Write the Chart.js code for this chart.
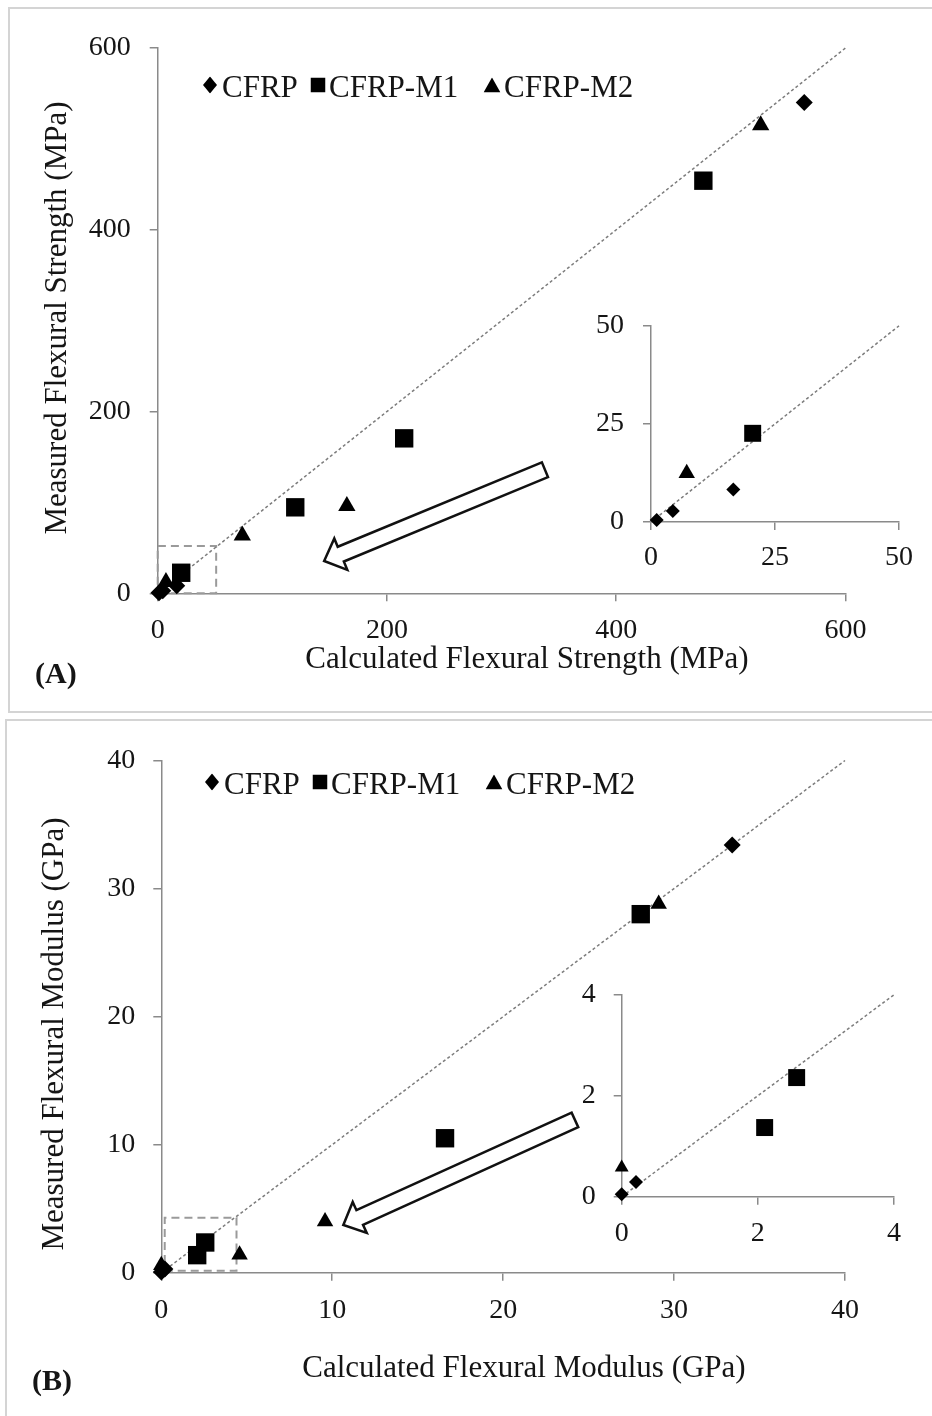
<!DOCTYPE html>
<html>
<head>
<meta charset="utf-8">
<script src="https://cdn.jsdelivr.net/npm/chart.js@4.4.1/dist/chart.umd.min.js"></script>
<style>
  body { margin: 0; background: #fff; }
  #page { position: relative; width: 932px; height: 1416px; overflow: hidden; font-family: "Liberation Serif", serif; color: #151515; }
  .panel { position: absolute; border: 2px solid #d4d4d4; box-sizing: border-box; }
  .cv { position: absolute; }
  .txt { position: absolute; white-space: nowrap; line-height: 1; }
  .title { font-size: 31px; transform: translate(-50%, -50%); }
  .ytitle { font-size: 31px; transform: translate(-50%, -50%) rotate(-90deg); }
  .tag { font-size: 30px; font-weight: bold; transform: translateY(-50%); }
  .leg { position: absolute; font-size: 31px; line-height: 1; white-space: nowrap; transform: translateY(-50%); }
  .sym { position: absolute; transform: translate(-50%, -50%); }
</style>
</head>
<body>
<div id="page">
  <div class="panel" style="left:8px;top:7px;width:940px;height:706px"></div>
  <div class="panel" style="left:5px;top:719px;width:940px;height:720px"></div>

  <canvas id="mainA" class="cv" style="left:0;top:0" width="932" height="712"></canvas>
  <canvas id="insetA" class="cv" style="left:560px;top:290px" width="372" height="300"></canvas>
  <canvas id="mainB" class="cv" style="left:0;top:715px" width="932" height="701"></canvas>
  <canvas id="insetB" class="cv" style="left:530px;top:960px" width="402" height="300"></canvas>

  <div class="txt ytitle" style="left:55px;top:318px">Measured Flexural Strength (MPa)</div>
  <div class="txt title" style="left:527px;top:657px">Calculated Flexural Strength (MPa)</div>
  <div class="txt tag" style="left:35px;top:673px">(A)</div>

  <div class="txt ytitle" style="left:52px;top:1034px">Measured Flexural Modulus (GPa)</div>
  <div class="txt title" style="left:524px;top:1366px">Calculated Flexural Modulus (GPa)</div>
  <div class="txt tag" style="left:32px;top:1380px">(B)</div>

  <div id="legA"></div>
  <div id="legB"></div>
</div>

<script>
// (A) flexural strength, MPa: [calculated, measured]
const strengthCFRP = [[1.15, 0.5], [4.4, 2.8], [16.6, 8.3], [564, 540]];
const strengthM1 = [[20.5, 22.6], [120, 94.6], [215, 170.5], [476, 454]];
const strengthM2 = [[7.2, 12.4], [73.8, 63.6], [165, 96], [526, 515]];
const strengthTicks = [0, 200, 400, 600];
const strengthInsetTicks = [0, 25, 50];
const strengthBox = [[0, 0], [51, 0], [51, 52], [0, 52], [0, 0]];
const strengthArrow = [[337.8, 136], [145.2, 35.5]];

// (B) flexural modulus, GPa: [calculated, measured]
const modulusCFRP = [[0, 0.05], [0.21, 0.29], [33.4, 33.4]];
const modulusM1 = [[2.1, 1.37], [2.57, 2.36], [16.6, 10.5], [28.05, 28.0]];
const modulusM2 = [[0, 0.58], [4.58, 1.4], [9.58, 4.0], [29.1, 28.8]];
const modulusTicks = [0, 10, 20, 30, 40];
const modulusInsetTicks = [0, 2, 4];
const modulusBox = [[0.2, 0.15], [4.4, 0.15], [4.4, 4.3], [0.2, 4.3], [0.2, 0.15]];
const modulusArrow = [[24.2, 11.93], [10.65, 3.73]];

const seriesNames = ['CFRP', 'CFRP-M1', 'CFRP-M2'];

const AXIS = '#8a8a8a';
const INK = '#151515';

// hollow block arrow pointing from the inset to the zoom box
const blockArrow = {
  id: 'blockArrow',
  afterDatasetsDraw(chart, args, o) {
    if (!o || !o.from) return;
    const xs = chart.scales.x, ys = chart.scales.y;
    const tx = xs.getPixelForValue(o.from[0]), ty = ys.getPixelForValue(o.from[1]);
    const px = xs.getPixelForValue(o.to[0]), py = ys.getPixelForValue(o.to[1]);
    const len = Math.hypot(px - tx, py - ty);
    const dx = (px - tx) / len, dy = (py - ty) / len;
    const nx = -dy, ny = dx;
    const w = 8, h = 17, L = 18;
    const bx = px - dx * L, by = py - dy * L;
    const ctx = chart.ctx;
    ctx.save();
    ctx.beginPath();
    ctx.moveTo(tx + nx * w, ty + ny * w);
    ctx.lineTo(bx + nx * w, by + ny * w);
    ctx.lineTo(bx + nx * h, by + ny * h);
    ctx.lineTo(px, py);
    ctx.lineTo(bx - nx * h, by - ny * h);
    ctx.lineTo(bx - nx * w, by - ny * w);
    ctx.lineTo(tx - nx * w, ty - ny * w);
    ctx.closePath();
    ctx.fillStyle = '#fff';
    ctx.fill();
    ctx.lineWidth = 2.5;
    ctx.lineJoin = 'miter';
    ctx.strokeStyle = '#111';
    ctx.stroke();
    ctx.restore();
  }
};

const toPts = arr => arr.map(p => ({ x: p[0], y: p[1] }));

function axis(ticks, fitSize, pad, isX) {
  return {
    type: 'linear',
    min: ticks[0],
    max: ticks[ticks.length - 1],
    afterBuildTicks: s => { s.ticks = ticks.map(v => ({ value: v })); },
    afterFit: s => { if (isX) s.height = fitSize; else s.width = fitSize; },
    grid: { display: true, drawOnChartArea: false, drawTicks: true, tickLength: 8, color: AXIS, lineWidth: 1.5 },
    border: { display: true, color: AXIS, width: 1.5 },
    ticks: {
      color: INK, padding: pad, autoSkip: false, maxRotation: 0,
      font: { family: 'Liberation Serif', size: 28 }
    }
  };
}

function drawPanel(id, cfg) {
  const top = cfg.ticks[cfg.ticks.length - 1];
  const datasets = [
    { label: seriesNames[0], data: toPts(cfg.cfrp), pointStyle: 'rectRot', pointRadius: cfg.r[0] },
    { label: seriesNames[1], data: toPts(cfg.m1), pointStyle: 'rect', pointRadius: cfg.r[1] },
    { label: seriesNames[2], data: toPts(cfg.m2), pointStyle: 'triangle', pointRadius: cfg.r[2] }
  ].map(d => Object.assign(d, { backgroundColor: '#000', borderColor: '#000', borderWidth: 0, showLine: false, clip: false, order: 0 }));

  // 1:1 line
  datasets.push({
    label: 'parity', data: [{ x: cfg.ticks[0], y: cfg.ticks[0] }, { x: top, y: top }],
    showLine: true, borderColor: '#7c7c7c', borderWidth: 1.5, borderDash: [3, 2.5],
    pointRadius: 0, clip: false, order: 5
  });
  if (cfg.box) {
    datasets.push({
      label: 'zoom', data: toPts(cfg.box), showLine: true, borderColor: '#9a9a9a',
      borderWidth: 2, borderDash: [8, 5], pointRadius: 0, clip: false, order: 6
    });
  }

  new Chart(document.getElementById(id), {
    type: 'scatter',
    data: { datasets },
    plugins: [blockArrow],
    options: {
      responsive: false,
      animation: false,
      events: [],
      layout: { padding: { left: 0, top: cfg.padTop, right: cfg.padRight, bottom: 0 } },
      plugins: {
        legend: { display: false },
        tooltip: { enabled: false },
        blockArrow: cfg.arrow ? { from: cfg.arrow[0], to: cfg.arrow[1] } : false
      },
      scales: {
        x: axis(cfg.ticks, cfg.xH, cfg.xPad, true),
        y: axis(cfg.ticks, cfg.yW, cfg.yPad, false)
      }
    }
  });
}

drawPanel('mainA', {
  cfrp: strengthCFRP, m1: strengthM1, m2: strengthM2, ticks: strengthTicks,
  box: strengthBox, arrow: strengthArrow, r: [8.5, 13, 10],
  yW: 157.7, xH: 118.7, padTop: 48, padRight: 86.5, xPad: 13, yPad: 19
});
drawPanel('insetA', {
  cfrp: strengthCFRP, m1: strengthM1, m2: strengthM2, ticks: strengthInsetTicks,
  r: [7, 12, 9.5],
  yW: 91, xH: 68, padTop: 34, padRight: 33, xPad: 11, yPad: 19
});
drawPanel('mainB', {
  cfrp: modulusCFRP, m1: modulusM1, m2: modulusM2, ticks: modulusTicks,
  box: modulusBox, arrow: modulusArrow, r: [8.5, 13, 9.5],
  yW: 161.3, xH: 143.3, padTop: 45.5, padRight: 87, xPad: 13, yPad: 18
});
drawPanel('insetB', {
  cfrp: modulusCFRP, m1: modulusM1, m2: modulusM2, ticks: modulusInsetTicks,
  r: [7, 12, 8],
  yW: 91.7, xH: 63.3, padTop: 31.7, padRight: 38, xPad: 12, yPad: 18
});

// legends, html text with small svg markers
const legendShapes = [
  '<svg width="14" height="17"><polygon points="7,0 14,8.5 7,17 0,8.5" fill="#000"/></svg>',
  '<svg width="15" height="15"><rect width="15" height="15" fill="#000"/></svg>',
  '<svg width="17" height="15"><polygon points="8.5,0 17,15 0,15" fill="#000"/></svg>'
];
function drawLegend(elId, y, symX, textX) {
  const el = document.getElementById(elId);
  seriesNames.forEach((name, i) => {
    const s = document.createElement('div');
    s.className = 'sym';
    s.style.left = symX[i] + 'px';
    s.style.top = (y + 1) + 'px';
    s.innerHTML = legendShapes[i];
    el.appendChild(s);
    const t = document.createElement('div');
    t.className = 'leg';
    t.style.left = textX[i] + 'px';
    t.style.top = y + 'px';
    t.textContent = name;
    el.appendChild(t);
  });
}
drawLegend('legA', 86, [210, 318, 492], [222, 329, 504]);
drawLegend('legB', 783, [212, 320, 494], [224, 331, 506]);
</script>
</body>
</html>
